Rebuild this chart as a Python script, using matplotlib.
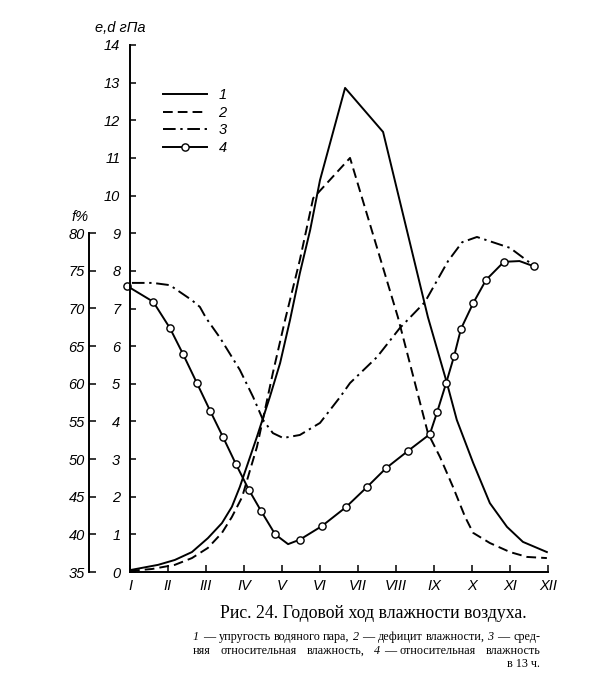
import matplotlib
matplotlib.use('Agg')
import matplotlib.pyplot as plt

# ---------------- data ----------------
months = ['I', 'II', 'III', 'IV', 'V', 'VI', 'VII', 'VIII', 'IX', 'X', 'XI', 'XII']
month_pos = list(range(1, 13))

# 1 - water vapour pressure e, hPa
m1 = [1.0, 1.74, 2.18, 2.63, 3.05, 3.42, 3.68, 3.89, 4.34, 4.68, 4.95, 5.21, 5.47, 5.74,
      6.0, 6.66, 7.66, 8.84, 9.34, 9.6, 10.03, 10.47, 10.92, 11.34, 11.97]
e1 = [0.05, 0.19, 0.32, 0.53, 0.90, 1.30, 1.73, 2.26, 3.59, 4.65, 5.55, 6.69, 7.94, 9.08,
      10.41, 12.86, 11.69, 6.77, 5.02, 4.04, 2.90, 1.83, 1.20, 0.80, 0.53]

# 2 - humidity deficit d, hPa
m2 = [1.0, 1.58, 2.18, 2.63, 3.05, 3.42, 3.68, 3.95, 4.16, 4.34, 4.55, 4.76, 5.08, 5.47,
      5.82, 6.79, 8.05, 8.84, 9.16, 9.5, 9.82, 10.03, 10.47, 11.0, 11.45, 11.97]
d2 = [0.03, 0.08, 0.19, 0.37, 0.64, 1.04, 1.46, 1.99, 2.71, 3.32, 4.30, 5.29, 6.69, 8.29,
      9.93, 11.0, 6.77, 3.69, 3.05, 2.26, 1.46, 1.04, 0.77, 0.53, 0.40, 0.37]

# 3 - mean relative humidity f, %
m3 = [1.05, 1.6, 2.05, 2.63, 2.84, 3.0, 3.37, 3.89, 4.24, 4.5, 4.76, 5.03, 5.47, 6.0, 6.53,
      6.79, 7.5, 8.1, 8.76, 9.37, 9.74, 10.13, 11.0, 11.61]
f3 = [73.4, 73.4, 73.1, 71.1, 70.2, 68.75, 66.1, 61.85, 58.25, 55.2, 53.45, 52.8, 53.2, 54.8,
      58.25, 60.1, 63.55, 67.4, 70.85, 76.3, 78.8, 79.5, 78.05, 75.75]

# 4 - relative humidity at 13 h, %
m4 = [0.92, 1.61, 2.05, 2.39, 2.76, 3.11, 3.45, 3.79, 4.13, 4.45, 4.82, 5.16, 5.47, 6.05,
      6.68, 7.24, 7.74, 8.32, 8.89, 9.08, 9.32, 9.53, 9.71, 10.03, 10.37, 10.84, 11.25, 11.63]
f4 = [73.0, 70.9, 67.4, 64.0, 60.1, 56.4, 52.9, 49.3, 45.9, 43.1, 40.0, 38.7, 39.3, 41.1,
      43.6, 46.3, 48.8, 51.1, 53.3, 56.2, 60.1, 63.7, 67.3, 70.7, 73.8, 76.2, 76.3, 75.6]
m4_marked = [0, 1, 2, 3, 4, 5, 6, 7, 8, 9, 10, 12, 13, 14, 15, 16, 17, 18, 19, 20, 21, 22,
             23, 24, 25, 27]

e_ticks = list(range(0, 15))
f_ticks = list(range(35, 81, 5))
legend_labels = ['1', '2', '3', '4']

F0, FK = 35, 5   # f axis is drawn so that f = F0 + FK * e

# ---------------- figure ----------------
W, H = 605, 693
fig = plt.figure(figsize=(W / 100, H / 100), dpi=100)


def fx(px):
    return px / W


def fy(py):
    return 1 - py / H


AX_L, AX_R, AX_B, AX_T = 130, 548, 572, 45
ax = fig.add_axes([fx(AX_L), fy(AX_B), (AX_R - AX_L) / W, (AX_B - AX_T) / H])
ax.set_xlim(1, 12)
ax.set_ylim(0, 14)
ax.patch.set_visible(False)
for s in ['top', 'right']:
    ax.spines[s].set_visible(False)
for s in ['left', 'bottom']:
    ax.spines[s].set_linewidth(1.4)

tickfont = dict(family='Liberation Sans', style='italic', size=10.5)
ax.set_yticks(e_ticks)
ax.set_yticklabels([str(v) for v in e_ticks], **tickfont)
ax.set_xticks(month_pos)
ax.set_xticklabels(months, **tickfont)
ax.tick_params(axis='y', direction='in', length=4, width=1.1, pad=7)
ax.tick_params(axis='x', direction='in', length=5, width=1.1, pad=5)

lw = 1.4
l1, = ax.plot(m1, e1, color='black', lw=lw, solid_joinstyle='round')
l2, = ax.plot(m2, d2, color='black', lw=lw, linestyle=(0, (5, 2.6)))
l3, = ax.plot(m3, [(v - F0) / FK for v in f3], color='black', lw=lw,
              linestyle=(0, (6.5, 2.4, 1.2, 2.4)))
l4, = ax.plot(m4, [(v - F0) / FK for v in f4], color='black', lw=lw,
              marker='o', markevery=m4_marked, ms=5.2, mfc='white', mec='black', mew=1.0,
              clip_on=False)

# second (f %) axis
axf = fig.add_axes([fx(89), fy(AX_B), 0.01, (AX_B - AX_T) / H])
axf.set_ylim(F0, F0 + FK * 14)
axf.patch.set_visible(False)
for s in ['top', 'right', 'bottom']:
    axf.spines[s].set_visible(False)
axf.spines['left'].set_bounds(f_ticks[0], f_ticks[-1])
axf.spines['left'].set_linewidth(1.4)
axf.set_xticks([])
axf.set_yticks(f_ticks)
axf.set_yticklabels([str(v) for v in f_ticks], **tickfont)
axf.tick_params(axis='y', direction='in', length=5, width=1.1, pad=3)

# axis titles
fig.text(fx(95), fy(28), 'e,d гПа', ha='left', va='center', **tickfont)
fig.text(fx(71), fy(217), 'f%', ha='left', va='center', **tickfont)

# legend
leg = fig.legend([l1, l2, l3, l4], legend_labels, loc='upper left',
                 bbox_to_anchor=(fx(150), fy(75)), frameon=False,
                 handlelength=3.0, handletextpad=0.8, labelspacing=0.25,
                 prop=dict(family='Liberation Sans', style='italic', size=10.5))

# ---------------- caption ----------------
SERIF = 'Liberation Serif'
fig.text(fx(373), fy(613), 'Рис. 24. Годовой ход влажности воздуха.',
         ha='center', va='center', family=SERIF, size=12.8)


def place_line(groups, y, x0, x1, size):
    texts = []
    for g in groups:
        gt = []
        for t, it in g:
            gt.append(fig.text(0, 0, t, fontsize=size, family=SERIF,
                               style='italic' if it else 'normal',
                               ha='left', va='baseline'))
        texts.append(gt)
    fig.canvas.draw()
    r = fig.canvas.get_renderer()
    inner = size * 1.39 * 0.3
    widths = []
    for gt in texts:
        ws = [t.get_window_extent(r).width for t in gt]
        widths.append(sum(ws) + inner * (len(ws) - 1))
    gap = (x1 - x0 - sum(widths)) / max(len(groups) - 1, 1)
    x = x0
    for gt in texts:
        for t in gt:
            t.set_position((fx(x), fy(y)))
            x += t.get_window_extent(r).width + inner
        x += gap - inner


N = False
I = True
line2 = [[('1', I), ('—', N), ('упругость', N)], [('водяного', N)], [('пара,', N)],
         [('2', I), ('—', N), ('дефицит', N)], [('влажности,', N)],
         [('3', I), ('—', N), ('сред-', N)]]
line3 = [[('няя', N)], [('относительная', N)], [('влажность,', N)],
         [('4', I), ('—', N), ('относительная', N)], [('влажность', N)]]
place_line(line2, 640, 193, 540, 8.7)
place_line(line3, 654, 193, 540, 8.7)
fig.text(fx(540), fy(667), 'в 13 ч.', ha='right', va='baseline', family=SERIF, size=8.7)

fig.savefig('out.png', dpi=100)
